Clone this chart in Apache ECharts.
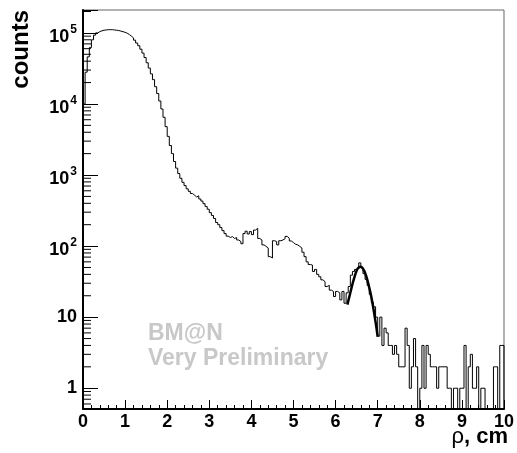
<!DOCTYPE html>
<html>
<head>
<meta charset="utf-8">
<script src="https://cdn.jsdelivr.net/npm/echarts@6/dist/echarts.min.js"></script>
<style>
html, body { margin: 0; padding: 0; background: #fff; }
#main { width: 517px; height: 453px; }
</style>
</head>
<body>
<div id="main"></div>
<script>
// histogram: 200 bins of 0.05 cm from 0 to 10
var binWidth = 0.05;
var counts = [
  10000, 28000, 46000, 62000, 80000, 93000, 100000, 104000, 107000, 109000,
  110000, 111000, 111000, 111000, 110000, 109000, 108000, 106000, 104000, 102000,
  99000, 95000, 90000, 85000, 79000, 72000, 66000, 59000, 52000, 45000,
  38000, 32000, 26500, 22000, 17500, 14000, 11000, 8500, 6500, 4800,
  3500, 2600, 2000, 1550, 1250, 1050, 900, 790, 710, 640,
  590, 550, 520, 490, 510, 460, 430, 395, 360, 330,
  295, 270, 245, 215, 200, 182, 165, 150, 138, 132,
  136, 128, 132, 122, 116, 108, 150, 162, 148, 160,
  145, 168, 178, 128, 122, 104, 99, 94, 71, 68,
  119, 116, 104, 119, 122, 127, 137, 129, 118, 112,
  106, 104, 99, 94, 82, 71, 60, 55, 54, 44,
  47, 40, 37, 33.5, 31.5, 27, 28, 24, 23, 19.5,
  23, 22, 17.5, 23, 15.7, 22, 27, 39, 44, 47,
  50, 58, 50, 41, 34, 28, 21, 16, 14, 10,
  5.4, 10, 4, 7, 6, 4, 4, 3, 4, 3,
  2, 2, 2, 7, 4, 1, 2, 5, 2, 0,
  1, 4, 1, 4, 3, 2, 2, 2, 1, 2,
  2, 2, 2, 1, 1, 0, 1, 1, 0, 1,
  1, 4, 0, 2, 3, 1, 1, 2, 0, 1,
  1, 0, 0, 0, 0, 2, 2, 0, 4, 4
];

// gaussian fit around 6.6 cm
var fitRho = [6.28, 6.35, 6.40, 6.45, 6.50, 6.55, 6.60, 6.65, 6.70, 6.75, 6.80, 6.85, 6.90, 6.95, 7.00];
var fitCounts = [15, 22, 29, 37, 45, 50, 51, 48, 42, 34, 26, 19, 13, 8.5, 5.3];

// minor ticks of the log axis
var yMinorTicks = [
  0.6, 0.7, 0.8, 0.9,
  2, 3, 4, 5, 6, 7, 8, 9,
  20, 30, 40, 50, 60, 70, 80, 90,
  200, 300, 400, 500, 600, 700, 800, 900,
  2000, 3000, 4000, 5000, 6000, 7000, 8000, 9000,
  20000, 30000, 40000, 50000, 60000, 70000, 80000, 90000,
  200000
];

var xMin = 0, xMax = 10;
var yMin = 0.51, yMax = 210000;
var zeroFloor = 0.1; // empty bins drop below the frame

var font = '"Liberation Sans", Arial, Helvetica, sans-serif';

//build step data from bin edges
var histData = [];
for (var i = 0; i < counts.length; i++) {
  histData.push([+(i * binWidth).toFixed(2), counts[i] > 0 ? counts[i] : zeroFloor]);
}
histData.push([xMax, counts[counts.length - 1] > 0 ? counts[counts.length - 1] : zeroFloor]);
histData.push([xMax, zeroFloor]);

var fitData = fitRho.map(function (r, k) { return [r, fitCounts[k]]; });

var chart = echarts.init(document.getElementById('main'), null, { renderer: 'canvas' });

chart.setOption({
  animation: false,
  backgroundColor: '#fff',
  grid: {
    left: 83, top: 10, right: 10, bottom: 44,
    show: true, borderColor: '#666', borderWidth: 1, backgroundColor: 'transparent'
  },
  xAxis: {
    type: 'value',
    min: xMin, max: xMax, interval: 1,
    axisLine: { lineStyle: { color: '#000', width: 2 } },
    axisTick: { inside: true, length: 9, lineStyle: { color: '#000', width: 1 } },
    minorTick: { show: true, splitNumber: 5, length: 4, lineStyle: { color: '#000', width: 1 } },
    splitLine: { show: false },
    axisLabel: {
      margin: 4, color: '#000', fontSize: 18, fontWeight: 'bold', fontFamily: font,
      showMinLabel: true, showMaxLabel: true
    }
  },
  yAxis: {
    type: 'log',
    logBase: 10,
    min: yMin, max: yMax,
    axisLine: { lineStyle: { color: '#000', width: 2 } },
    axisTick: { inside: true, length: 15, lineStyle: { color: '#000', width: 1 } },
    splitLine: { show: false },
    axisLabel: {
      margin: 6, color: '#000', fontSize: 18, fontWeight: 'bold', fontFamily: font,
      formatter: function (v) {
        var l = Math.log10(v);
        var e = Math.round(l);
        if (Math.abs(l - e) > 1e-6 || e < 0) return '';
        if (e === 0) return '1';
        if (e === 1) return '10';
        return '{b|10}{s|' + e + '}';
      },
      rich: {
        b: { fontSize: 18, fontWeight: 'bold', fontFamily: font, color: '#000', lineHeight: 18, padding: [8, 0, 0, 0] },
        s: { fontSize: 12, fontWeight: 'bold', fontFamily: font, color: '#000', lineHeight: 12, padding: [4, 0, 10, 1] }
      }
    }
  },
  series: [
    {
      name: 'hist',
      type: 'line',
      step: 'end',
      data: histData,
      symbol: 'none',
      clip: true,
      lineStyle: { color: '#000', width: 1 },
      z: 3
    },
    {
      name: 'fit',
      type: 'line',
      data: fitData,
      smooth: true,
      symbol: 'none',
      lineStyle: { color: '#000', width: 2.5 },
      z: 4
    },
    {
      name: 'yMinor',
      type: 'custom',
      silent: true,
      clip: false,
      data: yMinorTicks.map(function (v) { return [xMin, v]; }),
      renderItem: function (params, api) {
        var p = api.coord([api.value(0), api.value(1)]);
        return {
          type: 'line',
          shape: { x1: p[0], y1: p[1], x2: p[0] + 8, y2: p[1] },
          style: { stroke: '#000', lineWidth: 1 }
        };
      },
      z: 5
    }
  ],
  graphic: [
    {
      type: 'text', x: 21, y: 10, rotation: Math.PI / 2,
      style: { text: 'counts', fill: '#000', font: 'bold 24px ' + font, align: 'right', verticalAlign: 'middle' }
    },
    {
      type: 'text', x: 508, y: 437,
      style: {
        text: '{r|ρ}{c|, cm}', align: 'right', verticalAlign: 'middle',
        rich: {
          r: { font: '22px ' + font, fill: '#000' },
          c: { font: 'bold 22px ' + font, fill: '#000' }
        }
      }
    },
    {
      type: 'text', x: 148, y: 334,
      style: { text: 'BM@N', fill: '#c8c8c8', font: 'bold 23px ' + font, align: 'left', verticalAlign: 'middle' }
    },
    {
      type: 'text', x: 148, y: 359,
      style: { text: 'Very Preliminary', fill: '#c8c8c8', font: 'bold 23px ' + font, align: 'left', verticalAlign: 'middle' }
    }
  ]
});
</script>
</body>
</html>
